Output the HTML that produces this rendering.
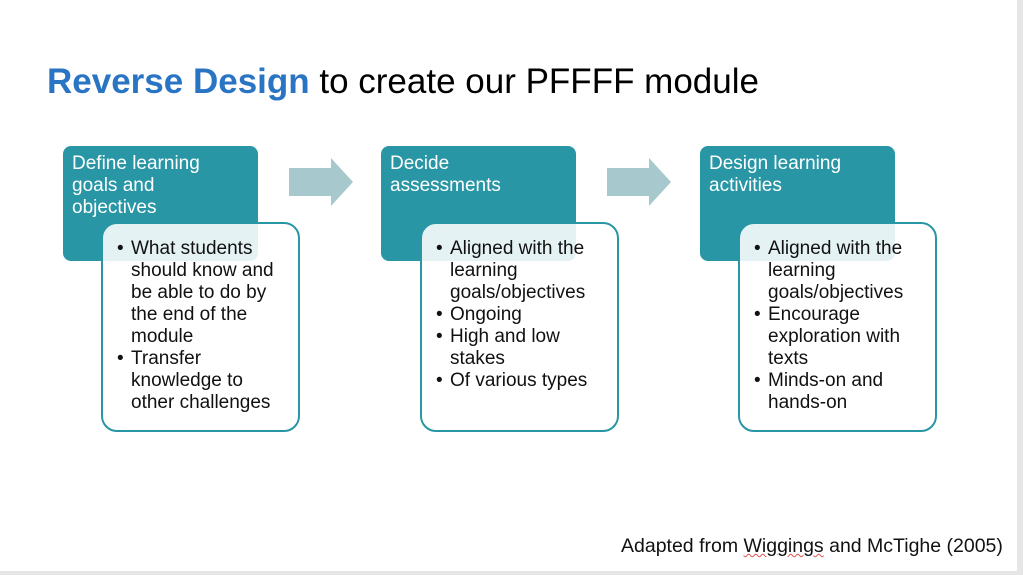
<!DOCTYPE html>
<html><head><meta charset="utf-8"><style>
body{margin:0;width:1023px;height:575px;background:#fff;position:relative;overflow:hidden;font-family:"Liberation Sans",Arial,sans-serif;}
.frame{position:absolute;right:0;top:0;width:6px;height:575px;background:#e6e6e6}
.frameb{position:absolute;left:0;bottom:0;width:1023px;height:4px;background:#e6e6e6}
.title{position:absolute;left:47px;top:62px;font-size:35px;color:#000;white-space:nowrap}
.title b{color:#2a74c4}
.teal{position:absolute;width:195px;height:115px;background:#2996a5;border-radius:8px;color:#fff;font-size:19px;line-height:22px;padding:7px 9px;box-sizing:border-box}
.white{position:absolute;width:199px;height:210px;border:2.5px solid #2996a5;border-radius:16px;background:rgba(255,255,255,0.88);box-sizing:border-box;font-size:19px;line-height:22px;color:#111;padding:14px 8px 0 28px}
.white ul{margin:0;padding:0;list-style:none}
.white li{position:relative}
.white li:before{content:"•";position:absolute;left:-14px}
.arrow{position:absolute;top:158px}
.cite{position:absolute;left:621px;top:535px;font-size:19.5px;color:#111;white-space:nowrap}
.cite u{text-decoration:underline wavy #e05050;text-decoration-thickness:1px}
</style></head><body>
<div class="title"><b>Reverse Design</b> to create our PFFFF module</div>

<div class="teal" style="left:63px;top:146px">Define learning<br>goals and<br>objectives</div>
<div class="white" style="left:101px;top:222px"><ul><li>What students should know and be able to do by the end of the module</li><li>Transfer knowledge to other challenges</li></ul></div>

<svg class="arrow" style="left:289px" width="64" height="48"><polygon points="0,10 42,10 42,0 64,24 42,48 42,38 0,38" fill="#a7c9cd"/></svg>

<div class="teal" style="left:381px;top:146px">Decide<br>assessments</div>
<div class="white" style="left:420px;top:222px"><ul><li>Aligned with the learning goals/objectives</li><li>Ongoing</li><li>High and low stakes</li><li>Of various types</li></ul></div>

<svg class="arrow" style="left:607px" width="64" height="48"><polygon points="0,10 42,10 42,0 64,24 42,48 42,38 0,38" fill="#a7c9cd"/></svg>

<div class="teal" style="left:700px;top:146px">Design learning<br>activities</div>
<div class="white" style="left:738px;top:222px"><ul><li>Aligned with the learning goals/objectives</li><li>Encourage exploration with texts</li><li>Minds-on and hands-on</li></ul></div>

<div class="cite">Adapted from <u>Wiggings</u> and McTighe (2005)</div>
<div class="frame"></div><div class="frameb"></div>
</body></html>
